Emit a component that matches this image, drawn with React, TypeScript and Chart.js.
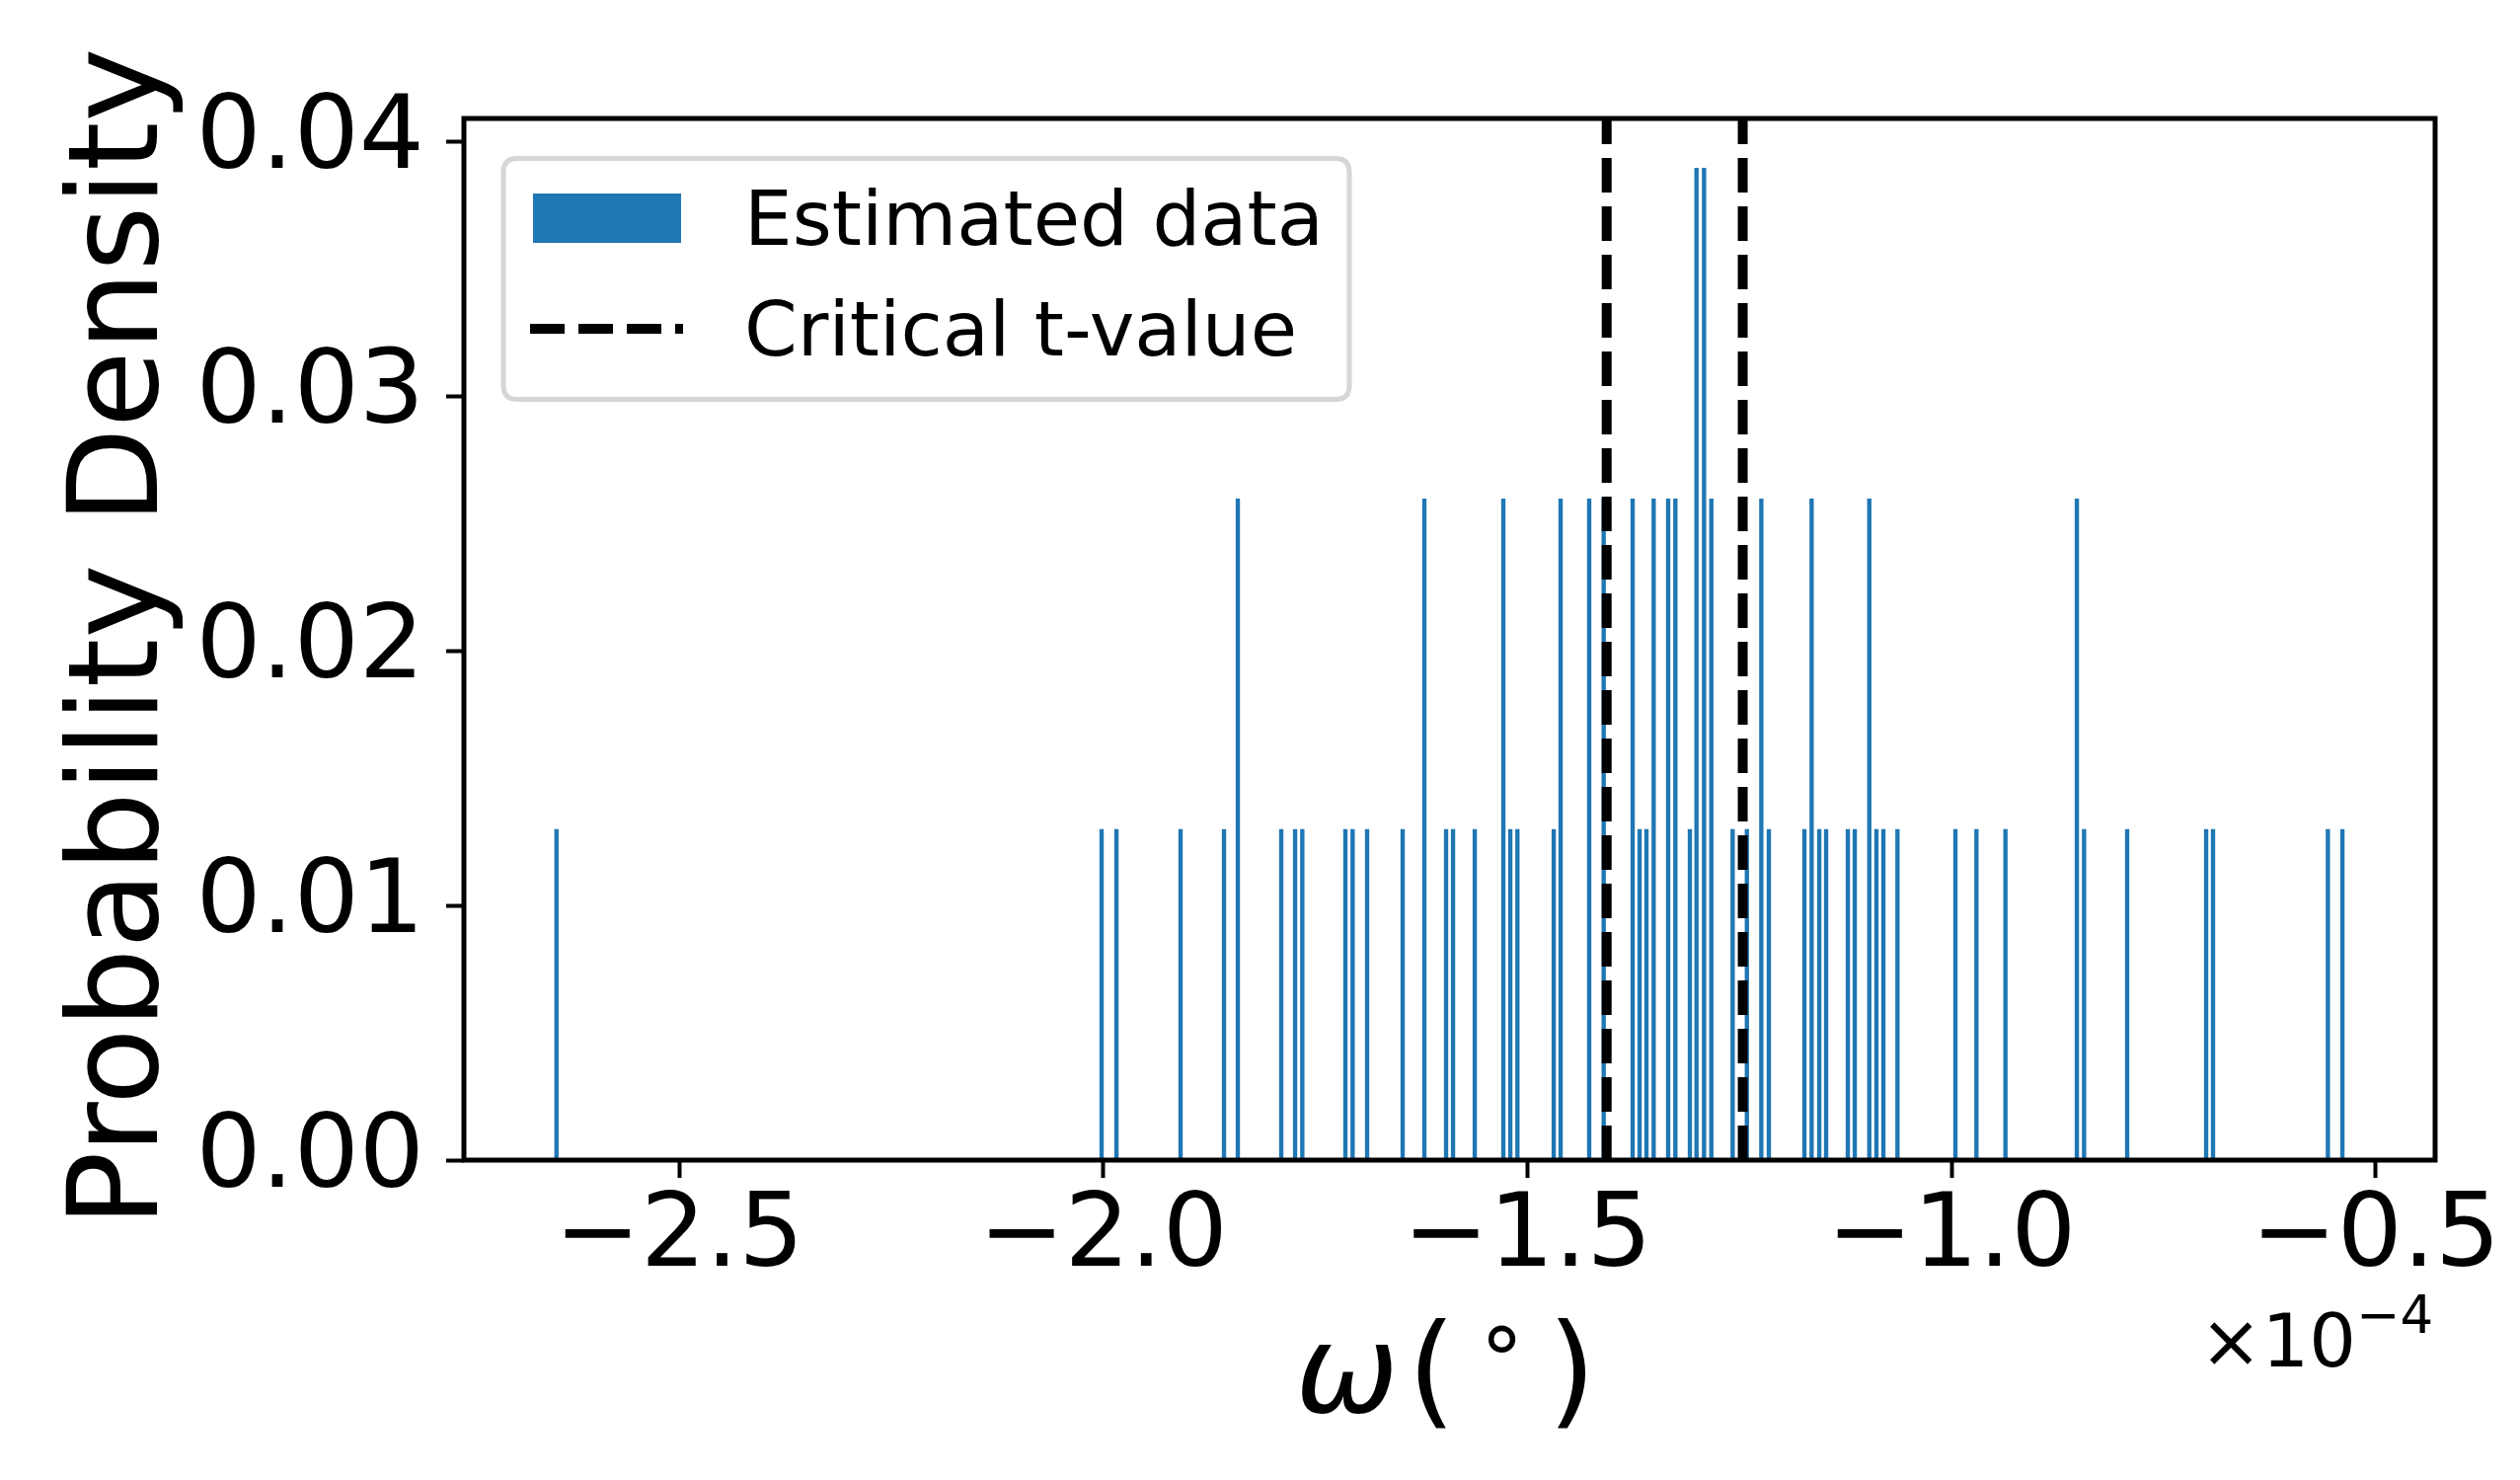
import React, { useEffect, useRef } from "react";
import { Chart, registerables } from "chart.js";

Chart.register(...registerables);

// Histogram bin centres (ω in units of 1e-4 degrees) and their probability density
const binCenters = [
  -2.6446, -2.002, -1.9845, -1.9089, -1.8577, -1.8414, -1.7902, -1.7739, -1.7654, -1.7146,
  -1.7061, -1.689, -1.6471, -1.6215, -1.5959, -1.5877, -1.5621, -1.5284, -1.5202, -1.5118,
  -1.469, -1.4609, -1.4272, -1.4101, -1.376, -1.3678, -1.3597, -1.3512, -1.3341, -1.3256,
  -1.3085, -1.3007, -1.2918, -1.2832, -1.2581, -1.2413, -1.2243, -1.2154, -1.1735, -1.165,
  -1.156, -1.1479, -1.1223, -1.1141, -1.097, -1.0886, -1.0804, -1.0638, -0.9955, -0.9707,
  -0.9365, -0.8523, -0.8438, -0.793, -0.6999, -0.6918, -0.5564, -0.5393,
];
const densities = [
  0.01299, 0.01299, 0.01299, 0.01299, 0.01299, 0.02597, 0.01299, 0.01299, 0.01299, 0.01299,
  0.01299, 0.01299, 0.01299, 0.02597, 0.01299, 0.01299, 0.01299, 0.02597, 0.01299, 0.01299,
  0.01299, 0.02597, 0.02597, 0.02597, 0.02597, 0.01299, 0.01299, 0.02597, 0.02597, 0.02597,
  0.01299, 0.03896, 0.03896, 0.02597, 0.01299, 0.01299, 0.02597, 0.01299, 0.01299, 0.02597,
  0.01299, 0.01299, 0.01299, 0.01299, 0.02597, 0.01299, 0.01299, 0.01299, 0.01299, 0.01299,
  0.01299, 0.02597, 0.01299, 0.01299, 0.01299, 0.01299, 0.01299, 0.01299,
];
const criticalValues = [-1.4066, -1.2462];
const xTicks = [-2.5, -2.0, -1.5, -1.0, -0.5];
const yTicks = [0.0, 0.01, 0.02, 0.03, 0.04];
const xLimits = [-2.7537, -0.43];
const yLimits = [0, 0.040909];
const legendLabels = ["Estimated data", "Critical t-value"];
const yLabel = "Probability Density";
const xLabelParts = ["ω", "(", "∘", ")"];
const offsetParts = ["×10", "−4"];

const W = 2553;
const H = 1499;
const FONT = "'DejaVu Sans', sans-serif";
const BLUE = "#1f77b4";

const fmtX = (v: number) => (v < 0 ? "\u2212" : "") + Math.abs(v).toFixed(1);
const fmtY = (v: number) => v.toFixed(2);

const decorPlugin = {
  id: "decor",
  afterDatasetsDraw(chart: any) {
    const { ctx, chartArea } = chart;
    ctx.save();
    ctx.strokeStyle = "#000";
    ctx.lineWidth = 5;
    ctx.setLineDash([]);
    ctx.strokeRect(chartArea.left, chartArea.top, chartArea.right - chartArea.left, chartArea.bottom - chartArea.top);
    ctx.restore();
  },
  afterDraw(chart: any) {
    const { ctx, chartArea } = chart;
    ctx.save();
    // Legend
    const bx = 510, by = 160.5, bw = 857, bh = 244, r = 14;
    ctx.beginPath();
    ctx.moveTo(bx + r, by);
    ctx.lineTo(bx + bw - r, by);
    ctx.quadraticCurveTo(bx + bw, by, bx + bw, by + r);
    ctx.lineTo(bx + bw, by + bh - r);
    ctx.quadraticCurveTo(bx + bw, by + bh, bx + bw - r, by + bh);
    ctx.lineTo(bx + r, by + bh);
    ctx.quadraticCurveTo(bx, by + bh, bx, by + bh - r);
    ctx.lineTo(bx, by + r);
    ctx.quadraticCurveTo(bx, by, bx + r, by);
    ctx.closePath();
    ctx.fillStyle = "rgba(255,255,255,0.8)";
    ctx.fill();
    ctx.strokeStyle = "#d6d6d6";
    ctx.lineWidth = 5;
    ctx.stroke();

    ctx.fillStyle = BLUE;
    ctx.fillRect(540, 196, 150, 50);

    ctx.strokeStyle = "#000";
    ctx.lineWidth = 10;
    ctx.lineCap = "butt";
    ctx.setLineDash([35, 14]);
    ctx.beginPath();
    ctx.moveTo(537, 333);
    ctx.lineTo(692, 333);
    ctx.stroke();
    ctx.setLineDash([]);

    ctx.fillStyle = "#000";
    ctx.font = `77px ${FONT}`;
    ctx.textAlign = "left";
    ctx.textBaseline = "alphabetic";
    ctx.fillText(legendLabels[0], 754, 248);
    ctx.fillText(legendLabels[1], 754, 360);

    // Y axis label
    const cy = (chartArea.top + chartArea.bottom) / 2;
    ctx.save();
    ctx.translate(159, cy - 2);
    ctx.rotate(-Math.PI / 2);
    ctx.font = `127px ${FONT}`;
    ctx.textAlign = "center";
    ctx.fillText(yLabel, 0, 0);
    ctx.restore();

    // X axis label  ω(∘)
    const cx = (chartArea.left + chartArea.right) / 2;
    ctx.textAlign = "center";
    ctx.font = `italic 125px ${FONT}`;
    ctx.fillText(xLabelParts[0], cx - 104, 1430);
    ctx.font = `125px ${FONT}`;
    ctx.fillText(xLabelParts[1], cx - 18, 1430);
    ctx.fillText(xLabelParts[3], cx + 124, 1430);
    ctx.font = `88px ${FONT}`;
    ctx.fillText(xLabelParts[2], cx + 53, 1384);

    // Offset text ×10^-4
    ctx.font = `75px ${FONT}`;
    ctx.textAlign = "right";
    ctx.fillText(offsetParts[0], 2387, 1384);
    ctx.font = `53px ${FONT}`;
    ctx.textAlign = "left";
    ctx.fillText(offsetParts[1], 2387, 1350);
    ctx.restore();
  },
};

export default function App() {
  const ref = useRef<HTMLCanvasElement | null>(null);

  useEffect(() => {
    document.body.style.margin = "0";
    const canvas = ref.current;
    if (!canvas) return;
    const chart = new Chart(canvas, {
      type: "bar",
      data: {
        datasets: [
          ...criticalValues.map((v) => ({
            type: "line" as const,
            label: legendLabels[1],
            data: [
              { x: v, y: yLimits[0] },
              { x: v, y: yLimits[1] },
            ],
            borderColor: "#000",
            borderWidth: 10,
            borderDash: [35, 14],
            borderCapStyle: "butt" as const,
            pointRadius: 0,
            fill: false,
            tension: 0,
            order: 0,
          })),
          {
            type: "bar" as const,
            label: legendLabels[0],
            data: binCenters.map((x, i) => ({ x, y: densities[i] })),
            backgroundColor: BLUE,
            borderWidth: 0,
            barThickness: 3.7,
            order: 1,
          },
        ],
      } as any,
      options: {
        responsive: false,
        maintainAspectRatio: false,
        devicePixelRatio: 1,
        animation: false,
        layout: { padding: { left: 0, right: 86, top: 120, bottom: 0 } },
        plugins: { legend: { display: false }, tooltip: { enabled: false } },
        scales: {
          x: {
            type: "linear",
            position: "bottom",
            min: xLimits[0],
            max: xLimits[1],
            offset: false,
            afterBuildTicks: (s: any) => {
              s.ticks = xTicks.map((value) => ({ value }));
            },
            afterFit: (s: any) => {
              s.height = 324;
              s.paddingLeft = 0;
              s.paddingRight = 0;
            },
            ticks: {
              callback: (v: any) => fmtX(Number(v)),
              font: { size: 104, family: FONT },
              color: "#000",
              padding: 0,
              maxRotation: 0,
              minRotation: 0,
              autoSkip: false,
            },
            grid: {
              display: true,
              offset: false,
              drawOnChartArea: false,
              drawTicks: true,
              tickLength: 18,
              tickWidth: 4,
              tickColor: "#000",
            },
            border: { display: false },
          },
          y: {
            type: "linear",
            min: yLimits[0],
            max: yLimits[1],
            afterBuildTicks: (s: any) => {
              s.ticks = yTicks.map((value) => ({ value }));
            },
            afterFit: (s: any) => {
              s.width = 470;
              s.paddingTop = 0;
              s.paddingBottom = 0;
            },
            ticks: {
              callback: (v: any) => fmtY(Number(v)),
              font: { size: 104, family: FONT },
              color: "#000",
              padding: 22,
              autoSkip: false,
            },
            grid: {
              display: true,
              drawOnChartArea: false,
              drawTicks: true,
              tickLength: 18,
              tickWidth: 4,
              tickColor: "#000",
            },
            border: { display: false },
          },
        },
      } as any,
      plugins: [decorPlugin],
    });
    return () => chart.destroy();
  }, []);

  return (
    <div style={{ position: "fixed", left: 0, top: 0, width: W, height: H, background: "#fff" }}>
      <canvas ref={ref} width={W} height={H} style={{ display: "block", width: W, height: H }} />
    </div>
  );
}
